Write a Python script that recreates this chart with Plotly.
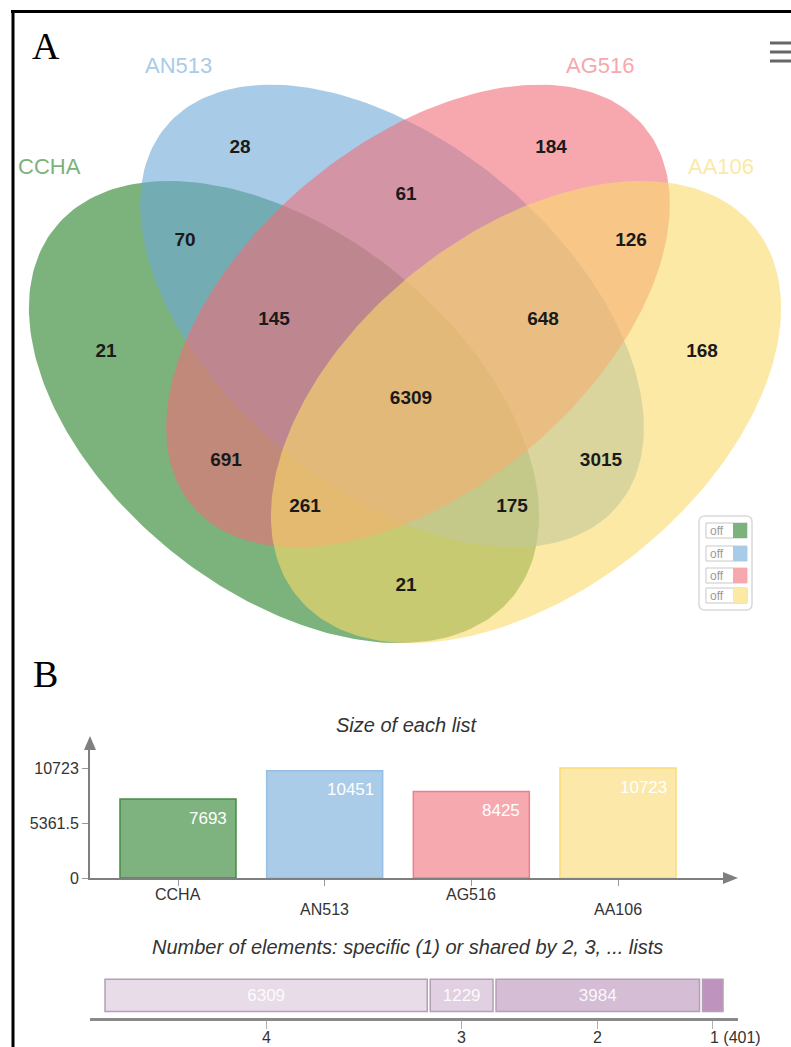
import numpy as np
import plotly.graph_objects as go

W, H = 791, 1047

# ---------------- data ----------------
set_names = ["CCHA", "AN513", "AG516", "AA106"]

region_keys = ["CCHA", "AN513", "AG516", "AA106",
               "CCHA&AN513", "AN513&AG516", "AG516&AA106", "CCHA&AA106",
               "CCHA&AG516", "AN513&AA106",
               "CCHA&AN513&AG516", "AN513&AG516&AA106",
               "CCHA&AG516&AA106", "CCHA&AN513&AA106",
               "CCHA&AN513&AG516&AA106"]
region_counts = [21, 28, 184, 168,
                 70, 61, 126, 21,
                 691, 3015,
                 145, 648,
                 261, 175,
                 6309]

list_sizes = [7693, 10451, 8425, 10723]

shared_levels = ["4", "3", "2", "1"]
shared_counts = [6309, 1229, 3984, 401]

# ---------------- layout / style ----------------
FONT = "Liberation Sans, Arial, sans-serif"
SERIF = "Liberation Serif, Times New Roman, serif"

# label anchor (pixel) for every Venn region
region_pos = {
    "CCHA": (106, 352), "AN513": (240, 148), "AG516": (551, 148), "AA106": (702, 352),
    "CCHA&AN513": (185, 241), "AN513&AG516": (406, 195), "AG516&AA106": (631, 241),
    "CCHA&AA106": (406, 586), "CCHA&AG516": (226, 461), "AN513&AA106": (601, 461),
    "CCHA&AN513&AG516": (274, 320), "AN513&AG516&AA106": (543, 320),
    "CCHA&AG516&AA106": (305, 507), "CCHA&AN513&AA106": (512, 507),
    "CCHA&AN513&AG516&AA106": (411, 399),
}

# ellipse geometry per set: centre, semi-axes, tilt (deg, screen coords)
ellipses = [
    dict(cx=284, cy=412, a=294, b=179, ang=38.8),
    dict(cx=392, cy=316, a=295, b=173, ang=40),
    dict(cx=418, cy=316, a=295, b=173, ang=-40),
    dict(cx=526, cy=412, a=294, b=179, ang=-38.8),
]
base_rgb = [(37, 127, 37), (110, 170, 217), (240, 110, 120), (250, 218, 107)]
ALPHA = 0.6
light_rgb = [tuple(int(round(ALPHA * c + (1 - ALPHA) * 255)) for c in rgb) for rgb in base_rgb]
name_pos = [(49, 166), (178, 65), (600, 65), (721, 166)]

bar_fill = ["rgb(126,178,126)", "rgb(170,204,232)", "rgb(246,170,176)", "rgb(252,233,170)"]
bar_line = ["rgb(70,140,70)", "rgb(150,190,228)", "rgb(240,125,135)", "rgb(250,220,120)"]
seg_fill = ["rgb(232,220,232)", "rgb(225,208,225)", "rgb(213,189,213)", "rgb(190,148,190)"]
seg_line = "rgb(180,160,180)"
AXIS = "#7f7f7f"

fig = go.Figure()

# ---------------- Venn ellipses (pixel axes x/y) ----------------
t = np.linspace(0, 2 * np.pi, 240)
for e, rgb, name in zip(ellipses, base_rgb, set_names):
    th = np.deg2rad(e["ang"])
    ex = e["cx"] + e["a"] * np.cos(t) * np.cos(th) - e["b"] * np.sin(t) * np.sin(th)
    ey = e["cy"] + e["a"] * np.cos(t) * np.sin(th) + e["b"] * np.sin(t) * np.cos(th)
    fig.add_trace(go.Scatter(
        x=ex, y=ey, mode="lines", fill="toself",
        fillcolor=f"rgba({rgb[0]},{rgb[1]},{rgb[2]},{ALPHA})",
        line=dict(width=0), hoverinfo="skip", name=name, showlegend=False,
        xaxis="x", yaxis="y"))

# region counts
fig.add_trace(go.Scatter(
    x=[region_pos[k][0] for k in region_keys],
    y=[region_pos[k][1] for k in region_keys],
    text=[str(v) for v in region_counts],
    mode="text", textposition="middle center",
    textfont=dict(family=FONT, size=19, color="#1a1a1a", weight="bold"),
    hoverinfo="skip", showlegend=False, cliponaxis=False, xaxis="x", yaxis="y"))

annotations = []
shapes = []

# set names
for name, (px, py), rgb in zip(set_names, name_pos, light_rgb):
    annotations.append(dict(x=px, y=py, xref="x", yref="y", text=name, showarrow=False,
                            font=dict(family=FONT, size=22, color=f"rgb{rgb}"),
                            xanchor="center", yanchor="middle"))

# panel letters
annotations.append(dict(x=46, y=46, xref="x", yref="y", text="A", showarrow=False,
                        font=dict(family=SERIF, size=38, color="black")))
annotations.append(dict(x=45, y=674, xref="x", yref="y", text="B", showarrow=False,
                        font=dict(family=SERIF, size=38, color="black")))

# frame (top and left edges)
shapes.append(dict(type="line", xref="x", yref="y", x0=11, x1=W, y0=11.5, y1=11.5,
                   line=dict(color="black", width=3)))
shapes.append(dict(type="line", xref="x", yref="y", x0=13, x1=13, y0=10, y1=H,
                   line=dict(color="black", width=3)))

# menu icon
for yy in (43, 52, 61):
    shapes.append(dict(type="line", xref="x", yref="y", x0=770, x1=W, y0=yy, y1=yy,
                       line=dict(color="#666666", width=3)))

# on/off switch panel
def rounded_rect(x0, y0, x1, y1, r):
    return (f"M{x0+r},{y0} L{x1-r},{y0} Q{x1},{y0} {x1},{y0+r} L{x1},{y1-r} Q{x1},{y1} {x1-r},{y1} "
            f"L{x0+r},{y1} Q{x0},{y1} {x0},{y1-r} L{x0},{y0+r} Q{x0},{y0} {x0+r},{y0} Z")

shapes.append(dict(type="path", xref="x", yref="y", path=rounded_rect(699, 516, 752, 610, 6),
                   line=dict(color="#d9d9d9", width=1.5), fillcolor="white"))
for yc, rgb in zip([530.5, 553.5, 575.5, 595.5], light_rgb):
    shapes.append(dict(type="rect", xref="x", yref="y", x0=706, x1=747, y0=yc - 7.5, y1=yc + 7.5,
                       line=dict(color="#c8c8c8", width=1), fillcolor="white"))
    shapes.append(dict(type="rect", xref="x", yref="y", x0=733, x1=747, y0=yc - 7.5, y1=yc + 7.5,
                       line=dict(width=0), fillcolor=f"rgb{rgb}"))
    annotations.append(dict(x=708, y=yc, xref="x", yref="y", text="off", showarrow=False,
                            xanchor="left", yanchor="middle",
                            font=dict(family=FONT, size=12, color="#9a9a9a")))

# ---------------- bar chart: size of each list ----------------
BAR_Y0, BAR_YTOP = 878, 749          # pixel rows of the axis
ppu_y = 110 / max(list_sizes)        # pixels per element
ymax2 = (BAR_Y0 - BAR_YTOP) / ppu_y
cat_step = (618 - 178) / 3
X2_LEFT, X2_RIGHT = 90, 724
x2_range = [(X2_LEFT - 178) / cat_step, (X2_RIGHT - 178) / cat_step]
xs = list(range(len(set_names)))

fig.add_trace(go.Bar(
    x=xs, y=list_sizes, width=116 / cat_step,
    marker=dict(color=bar_fill, line=dict(color=bar_line, width=1.5)),
    hoverinfo="skip", showlegend=False, xaxis="x2", yaxis="y2"))

for i, v in enumerate(list_sizes):
    annotations.append(dict(x=i + 0.5 * 116 / cat_step, y=v, xref="x2", yref="y2",
                            text=str(v), showarrow=False, xanchor="right", yanchor="middle",
                            xshift=-7, yshift=-19,
                            font=dict(family=FONT, size=17, color="white")))
# staggered category labels
for i, name in enumerate(set_names):
    annotations.append(dict(x=i, y=0, xref="x2", yref="y2", text=name, showarrow=False,
                            xanchor="center", yanchor="middle",
                            yshift=-16 if i % 2 == 0 else -31,
                            font=dict(family=FONT, size=16, color="#333333")))

annotations.append(dict(x=407, y=725, xref="x", yref="y", text="<i>Size of each list</i>",
                        showarrow=False, font=dict(family=FONT, size=20, color="#333333")))

# axis arrowheads
shapes.append(dict(type="path", xref="x", yref="y", path="M90,736 L84,750 L96,750 Z",
                   fillcolor=AXIS, line=dict(width=0)))
shapes.append(dict(type="path", xref="x", yref="y", path="M738,878 L723,872 L723,884 Z",
                   fillcolor=AXIS, line=dict(width=0)))

# ---------------- shared-by bar ----------------
annotations.append(dict(x=407, y=947, xref="x", yref="y",
                        text="<i>Number of elements: specific (1) or shared by 2, 3, ... lists</i>",
                        showarrow=False, font=dict(family=FONT, size=20, color="#333333")))

SEG_X0, SEG_X1, GAP_PX = 105, 723, 3
total = sum(shared_counts)
ppu_x = (SEG_X1 - SEG_X0 - GAP_PX * (len(shared_counts) - 1)) / total
gap = GAP_PX / ppu_x
bases = []
acc = 0.0
for c in shared_counts:
    bases.append(acc)
    acc += c + gap
centers = [b + c / 2 for b, c in zip(bases, shared_counts)]
X3_LEFT, X3_RIGHT = 90, 738
x3_range = [-(SEG_X0 - X3_LEFT) / ppu_x, (X3_RIGHT - SEG_X0) / ppu_x]

fig.add_trace(go.Bar(
    x=shared_counts, base=bases, y=[0] * len(shared_counts), orientation="h", width=1.0,
    marker=dict(color=seg_fill, line=dict(color=seg_line, width=1.5)),
    text=[str(c) if c > 1000 else "" for c in shared_counts],
    textposition="inside", insidetextanchor="middle", textangle=0,
    textfont=dict(family=FONT, size=17, color="rgba(255,255,255,0.92)"),
    constraintext="none",
    hoverinfo="skip", showlegend=False, xaxis="x3", yaxis="y3"))

for lvl, cx_, cnt in zip(shared_levels, centers, shared_counts):
    label = lvl if lvl != "1" else f"{lvl} ({cnt})"
    annotations.append(dict(x=cx_, y=1037, xref="x3", yref="y", text=label, showarrow=False,
                            xanchor="center" if lvl != "1" else "left",
                            xshift=0 if lvl != "1" else -5, yanchor="middle",
                            font=dict(family=FONT, size=16, color="#333333")))

# ---------------- axes ----------------
def dom_y(top_px, bottom_px):
    return [1 - bottom_px / H, 1 - top_px / H]

layout = dict(
    width=W, height=H, autosize=False,
    margin=dict(l=0, r=0, t=0, b=0, pad=0, autoexpand=False),
    paper_bgcolor="white", plot_bgcolor="rgba(0,0,0,0)",
    showlegend=False, barmode="overlay",
    xaxis=dict(range=[0, W], domain=[0, 1], visible=False, fixedrange=True, automargin=False),
    yaxis=dict(range=[H, 0], domain=[0, 1], visible=False, fixedrange=True, automargin=False),
    xaxis2=dict(domain=[X2_LEFT / W, X2_RIGHT / W], range=x2_range, anchor="y2",
                showgrid=False, zeroline=False, showline=True, linecolor=AXIS, linewidth=2,
                tickvals=xs, ticks="outside", ticklen=6, tickcolor="#999999",
                showticklabels=False, automargin=False),
    yaxis2=dict(domain=dom_y(BAR_YTOP, BAR_Y0), range=[0, ymax2], anchor="x2",
                showgrid=False, zeroline=False, showline=True, linecolor=AXIS, linewidth=2,
                tickvals=[0, max(list_sizes) / 2, max(list_sizes)],
                ticktext=["0", f"{max(list_sizes) / 2:g}", str(max(list_sizes))],
                ticks="outside", ticklen=6, tickcolor="#999999",
                tickfont=dict(family=FONT, size=16, color="#333333"), automargin=False),
    xaxis3=dict(domain=[X3_LEFT / W, X3_RIGHT / W], range=x3_range, anchor="y3",
                showgrid=False, zeroline=False, showline=True, linecolor="#8a8a8a", linewidth=3,
                tickvals=centers, ticks="outside", ticklen=8, tickcolor="#b0b0b0",
                showticklabels=False, automargin=False),
    yaxis3=dict(domain=dom_y(976, 1018), range=[-0.7, 0.6], anchor="x3", visible=False,
                automargin=False),
    annotations=annotations, shapes=shapes,
)
fig.update_layout(**layout)

fig.write_html("out.html", config={"displayModeBar": False})
